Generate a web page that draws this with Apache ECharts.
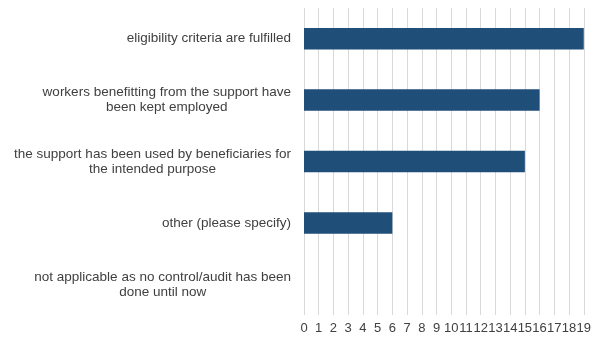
<!DOCTYPE html>
<html>
<head>
<meta charset="utf-8">
<script src="https://cdn.jsdelivr.net/npm/echarts@6/dist/echarts.min.js"></script>
<style>html,body{margin:0;padding:0;background:#fff;}#c{width:594px;height:337px;}</style>
</head>
<body>
<div id="c"></div>
<script>
const categories = [
  "eligibility criteria are fulfilled",
  "workers benefitting from the support have\nbeen kept employed",
  "the support has been used by beneficiaries for\nthe intended purpose",
  "other (please specify)",
  "not applicable as no control/audit has been\ndone until now"
];
const values = [19, 16, 15, 6, 0];
const xTicks = { min: 0, max: 19, interval: 1 };

const chart = echarts.init(document.getElementById('c'), null, { renderer: 'canvas' });
chart.setOption({
  animation: false,
  backgroundColor: '#ffffff',
  grid: { left: 304, right: 6, top: 8, bottom: 22, containLabel: false },
  xAxis: {
    type: 'value',
    min: xTicks.min, max: xTicks.max, interval: xTicks.interval,
    axisLine: { show: false },
    axisTick: { show: false },
    splitLine: { show: true, lineStyle: { color: '#d9d9d9', width: 1 } },
    axisLabel: { color: '#404040', fontSize: 13, fontFamily: 'Liberation Sans, Arial, sans-serif', margin: 7, hideOverlap: false, showMaxLabel: true, showMinLabel: true }
  },
  yAxis: {
    type: 'category',
    data: categories,
    inverse: true,
    axisLine: { show: false },
    axisTick: { show: false },
    splitLine: { show: false },
    axisLabel: {
      margin: 13,
      formatter: function (v) { return '{a|' + v + '}'; },
      rich: {
        a: { align: 'center', color: '#404040', fontSize: 13.5, lineHeight: 15, fontFamily: 'Liberation Sans, Arial, sans-serif' }
      }
    }
  },
  series: [{
    type: 'bar',
    data: values,
    barWidth: '35%',
    itemStyle: { color: '#1f4e79' }
  }]
});
</script>
</body>
</html>
